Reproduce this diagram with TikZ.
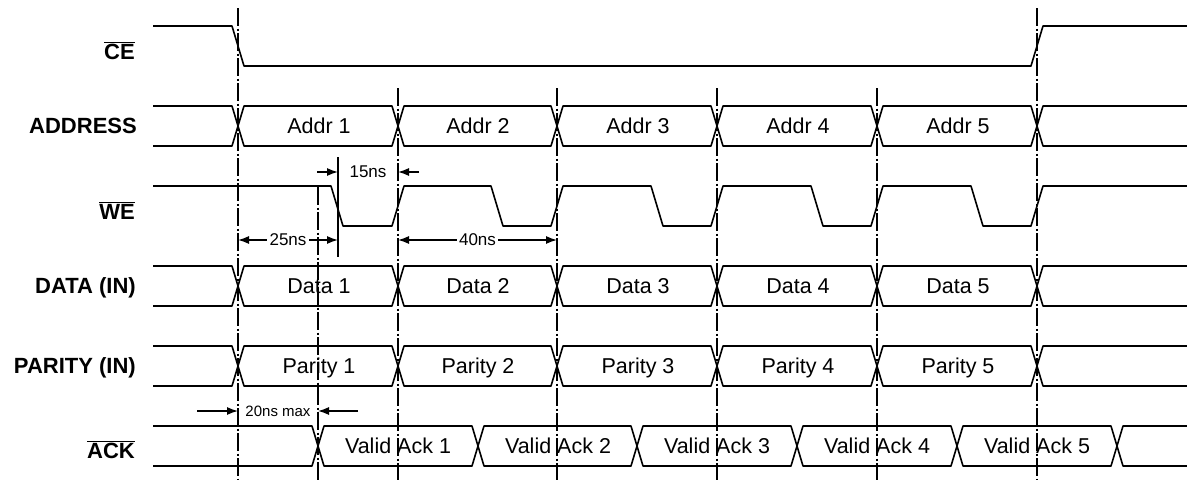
\documentclass[tikz,border=0pt]{standalone}
\usepackage{fontspec}
\setmainfont{Liberation Sans}
\usetikzlibrary{arrows.meta}

\begin{document}
\begin{tikzpicture}[x=1pt, y=-1pt, line join=round]
\tikzstyle{wave}=[line width=1.6pt]
\tikzstyle{marker}=[line width=1.4pt, dash pattern=on 18pt off 2.5pt on 2pt off 2.5pt]
\tikzstyle{siglabel}=[anchor=base east, inner sep=0pt, font=\fontsize{22}{26}\selectfont\bfseries]
\tikzstyle{buslabel}=[anchor=base, inner sep=0pt, font=\fontsize{21.5}{25}\selectfont]
\tikzstyle{dimlabel}=[fill=white, inner sep=2.5pt, font=\fontsize{17}{20}\selectfont]
\tikzstyle{dimline}=[line width=1.3pt, -{Latex[length=11pt,width=8pt]}]
\tikzstyle{dimboth}=[line width=1.3pt, {Latex[length=11pt,width=8pt]}-{Latex[length=11pt,width=8pt]}]

\useasboundingbox (0,0) rectangle (1187,482);

% signal names
\node[siglabel] (nCE) at (135,59) {$\overline{\mbox{CE}}$};
\node[siglabel] (nADDR) at (137,133) {ADDRESS};
\node[siglabel] (nWE) at (135,219) {$\overline{\mbox{WE}}$};
\node[siglabel] (nDATA) at (136,293) {DATA (IN)};
\node[siglabel] (nPAR) at (136,373) {PARITY (IN)};
\node[siglabel] (nACK) at (135,458) {$\overline{\mbox{ACK}}$};

% CE
\draw[wave] (153,26) -- (232,26) -- (244,66) -- (1031,66) -- (1043,26) -- (1187,26);

% ADDRESS
\draw[wave] (153,106) -- (232,106) -- (244,146) -- (392,146) -- (404,106) -- (551,106) -- (563,146)
  -- (711,146) -- (723,106) -- (871,106) -- (883,146) -- (1031,146) -- (1043,106) -- (1187,106);
\draw[wave] (153,146) -- (232,146) -- (244,106) -- (392,106) -- (404,146) -- (551,146) -- (563,106)
  -- (711,106) -- (723,146) -- (871,146) -- (883,106) -- (1031,106) -- (1043,146) -- (1187,146);
\node[buslabel] (A1) at (319,133) {Addr 1};
\node[buslabel] (A2) at (478,133) {Addr 2};
\node[buslabel] (A3) at (638,133) {Addr 3};
\node[buslabel] (A4) at (798,133) {Addr 4};
\node[buslabel] (A5) at (958,133) {Addr 5};

% WE
\draw[wave] (153,186) -- (331,186) -- (343,226) -- (392,226) -- (404,186) -- (491,186) -- (503,226)
  -- (551,226) -- (563,186) -- (651,186) -- (663,226) -- (711,226) -- (723,186) -- (811,186)
  -- (823,226) -- (871,226) -- (883,186) -- (971,186) -- (983,226) -- (1031,226) -- (1043,186)
  -- (1187,186);

% DATA (IN)
\draw[wave] (153,266) -- (232,266) -- (244,306) -- (392,306) -- (404,266) -- (551,266) -- (563,306)
  -- (711,306) -- (723,266) -- (871,266) -- (883,306) -- (1031,306) -- (1043,266) -- (1187,266);
\draw[wave] (153,306) -- (232,306) -- (244,266) -- (392,266) -- (404,306) -- (551,306) -- (563,266)
  -- (711,266) -- (723,306) -- (871,306) -- (883,266) -- (1031,266) -- (1043,306) -- (1187,306);
\node[buslabel] (D1) at (319,293) {Data 1};
\node[buslabel] (D2) at (478,293) {Data 2};
\node[buslabel] (D3) at (638,293) {Data 3};
\node[buslabel] (D4) at (798,293) {Data 4};
\node[buslabel] (D5) at (958,293) {Data 5};

% PARITY (IN)
\draw[wave] (153,346) -- (232,346) -- (244,386) -- (392,386) -- (404,346) -- (551,346) -- (563,386)
  -- (711,386) -- (723,346) -- (871,346) -- (883,386) -- (1031,386) -- (1043,346) -- (1187,346);
\draw[wave] (153,386) -- (232,386) -- (244,346) -- (392,346) -- (404,386) -- (551,386) -- (563,346)
  -- (711,346) -- (723,386) -- (871,386) -- (883,346) -- (1031,346) -- (1043,386) -- (1187,386);
\node[buslabel] (P1) at (319,373) {Parity 1};
\node[buslabel] (P2) at (478,373) {Parity 2};
\node[buslabel] (P3) at (638,373) {Parity 3};
\node[buslabel] (P4) at (798,373) {Parity 4};
\node[buslabel] (P5) at (958,373) {Parity 5};

% ACK
\draw[wave] (153,426) -- (312,426) -- (324,466) -- (472,466) -- (484,426) -- (631,426) -- (643,466)
  -- (791,466) -- (803,426) -- (951,426) -- (963,466) -- (1111,466) -- (1123,426) -- (1187,426);
\draw[wave] (153,466) -- (312,466) -- (324,426) -- (472,426) -- (484,466) -- (631,466) -- (643,426)
  -- (791,426) -- (803,466) -- (951,466) -- (963,426) -- (1111,426) -- (1123,466) -- (1187,466);
\node[buslabel] (K1) at (398,453) {Valid Ack 1};
\node[buslabel] (K2) at (558,453) {Valid Ack 2};
\node[buslabel] (K3) at (717,453) {Valid Ack 3};
\node[buslabel] (K4) at (877,453) {Valid Ack 4};
\node[buslabel] (K5) at (1037,453) {Valid Ack 5};

% timing markers
\draw[marker] (238,8) -- (238,480);
\draw[marker] (398,88) -- (398,480);
\draw[marker] (557,88) -- (557,480);
\draw[marker] (717,88) -- (717,480);
\draw[marker] (877,88) -- (877,480);
\draw[marker] (1037,8) -- (1037,480);
\draw[marker] (318,187) -- (318,480);
\draw[line width=1.4pt] (338,157) -- (338,257);

% 15ns
\coordinate (w15a) at (317,172);
\coordinate (w15b) at (338,172);
\coordinate (w15c) at (398,172);
\coordinate (w15d) at (419,172);
\draw[dimline] (w15a) -- (w15b);
\draw[dimline] (w15d) -- (w15c);
\node[dimlabel] (t15) at (368,172) {15ns};

% 25ns and 40ns
\coordinate (w25a) at (238,240);
\coordinate (w25b) at (338,240);
\draw[dimboth] (w25a) -- (w25b) node[dimlabel, midway] (t25) {25ns};
\coordinate (w40a) at (398,240);
\coordinate (w40b) at (557,240);
\draw[dimboth] (w40a) -- (w40b) node[dimlabel, midway] (t40) {40ns};

% 20ns max
\coordinate (w20a) at (197,411);
\coordinate (w20b) at (238,411);
\coordinate (w20c) at (318,411);
\coordinate (w20d) at (358,411);
\draw[dimline] (w20a) -- (w20b);
\draw[dimline] (w20d) -- (w20c);
\node[dimlabel, inner sep=1pt, font=\fontsize{15}{18}\selectfont] (t20) at (278,411) {20ns max};
\end{tikzpicture}
\end{document}
